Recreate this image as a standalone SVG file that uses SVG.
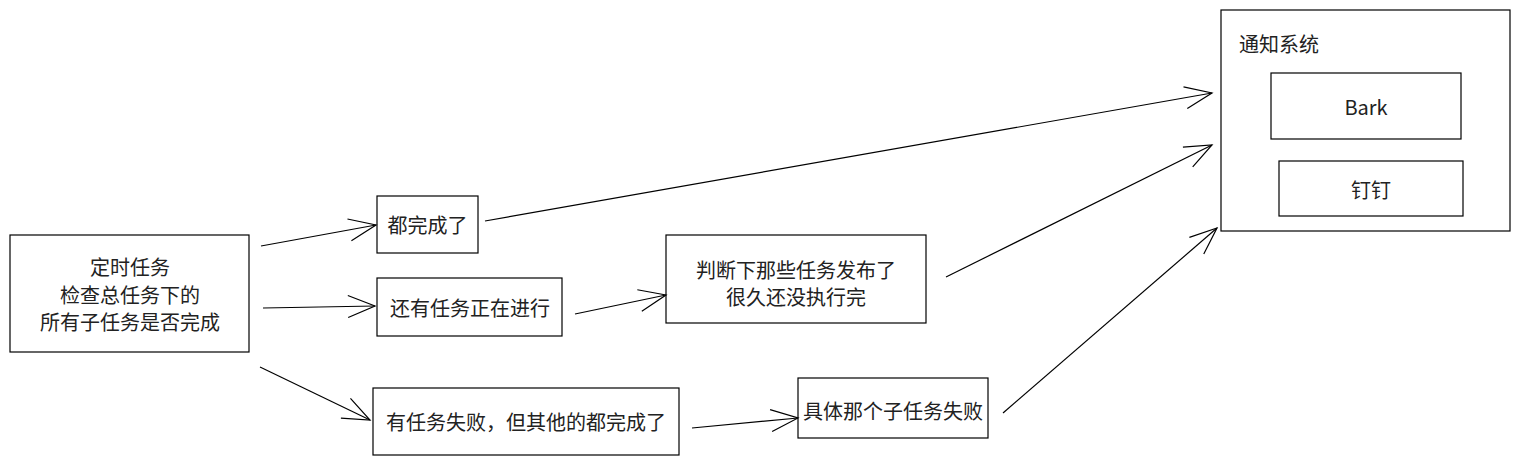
<svg xmlns="http://www.w3.org/2000/svg" width="1519" height="465" viewBox="0 0 1519 465">
<defs>
<style>
.box{fill:#fff;stroke:#000;stroke-width:1.2}
.t{font-family:"Noto Sans CJK SC","Noto Sans",sans-serif;font-size:20px;fill:#222;text-anchor:middle;dominant-baseline:central}
.c{fill:none;stroke:#000;stroke-width:1.2;marker-end:url(#open)}
</style>
<marker id="open" markerUnits="userSpaceOnUse" markerWidth="40" markerHeight="30" viewBox="-30 -15 32 30" refX="0" refY="0" orient="auto" overflow="visible">
<path d="M-27,-11 L0,0 L-27,11" fill="none" stroke="#000" stroke-width="1.2"/>
</marker>
</defs>
<rect width="1519" height="465" fill="#fff"/>
<g id="main"><rect class="box" x="10" y="235" width="239" height="117"/>
<text class="t" x="130" y="266">定时任务</text>
<text class="t" x="130" y="294">检查总任务下的</text>
<text class="t" x="130" y="321">所有子任务是否完成</text></g>
<g id="done"><rect class="box" x="377" y="196" width="101" height="57"/><text class="t" x="427.5" y="224">都完成了</text></g>
<g id="running"><rect class="box" x="377" y="278" width="185" height="58"/><text class="t" x="470" y="307">还有任务正在进行</text></g>
<g id="failed"><rect class="box" x="373" y="388" width="306" height="67"/><text class="t" x="526" y="421">有任务失败，但其他的都完成了</text></g>
<g id="judge"><rect class="box" x="666" y="235" width="260" height="88"/>
<text class="t" x="796" y="269">判断下那些任务发布了</text>
<text class="t" x="796" y="296">很久还没执行完</text></g>
<g id="which"><rect class="box" x="798" y="378" width="190" height="60"/><text class="t" x="893" y="410">具体那个子任务失败</text></g>
<g id="notify"><rect class="box" x="1221" y="10" width="289" height="221"/>
<text class="t" x="1279" y="43">通知系统</text></g>
<g id="bark"><rect class="box" x="1271" y="73" width="190" height="66"/><text class="t" x="1366" y="106">Bark</text></g>
<g id="dingding"><rect class="box" x="1279" y="161" width="184" height="55"/><text class="t" x="1371" y="189">钉钉</text></g>
<g id="connectors">
<line class="c" x1="261" y1="246" x2="376" y2="225"/>
<line class="c" x1="263" y1="308" x2="375" y2="306"/>
<line class="c" x1="260" y1="367" x2="370" y2="420"/>
<line class="c" x1="485" y1="221" x2="1212" y2="93"/>
<line class="c" x1="575" y1="314" x2="666" y2="295"/>
<line class="c" x1="946" y1="277" x2="1212" y2="145"/>
<line class="c" x1="692" y1="428" x2="798" y2="418"/>
<line class="c" x1="1003" y1="413" x2="1217" y2="228"/>
</g>
</svg>
